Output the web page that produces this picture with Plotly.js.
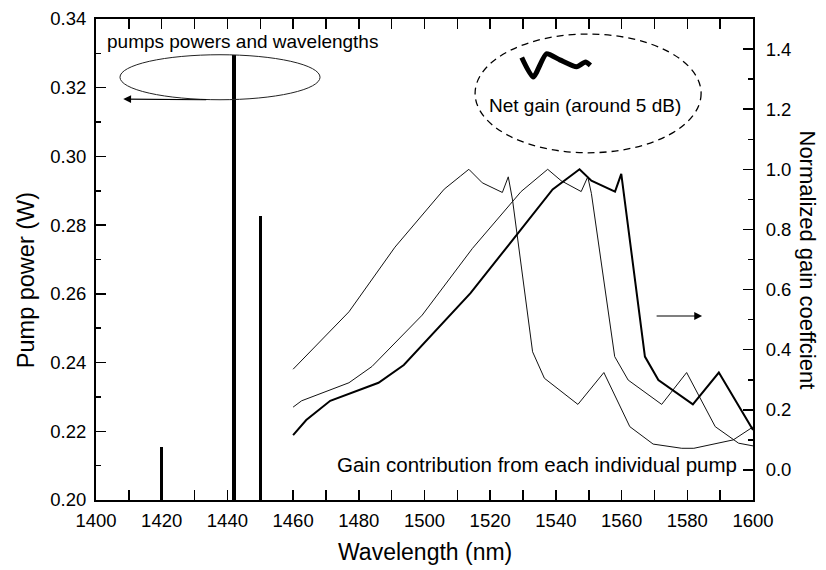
<!DOCTYPE html>
<html>
<head>
<meta charset="utf-8">
<script src="https://cdn.plot.ly/plotly-3.0.1.min.js"></script>
<style>html,body{margin:0;padding:0;background:#fff;}#chart{width:826px;height:570px;}</style>
</head>
<body>
<div id="chart"></div>
<script>
// Pump wavelengths (nm) and powers (W)
const pumpWavelengths = [1420, 1442, 1450];
const pumpPowers = [0.2155, 0.3296, 0.2827];

// Gain contribution curves (normalized), one per pump
const gainAx = [1460, 1477, 1491, 1506, 1511, 1513.5, 1517.6, 1523.7, 1525.5, 1526.8, 1532.9, 1536.5, 1546.7, 1554.6, 1562.5, 1569.6, 1578.3, 1582, 1594, 1600];
const gainAy = [0.335, 0.526, 0.741, 0.934, 0.978, 1.0, 0.955, 0.923, 0.975, 0.898, 0.393, 0.305, 0.218, 0.324, 0.144, 0.086, 0.072, 0.072, 0.100, 0.143];

const gainBx = [1460, 1462.6, 1477, 1484, 1499.3, 1511, 1514.6, 1529.4, 1537.5, 1541.6, 1547.7, 1549.7, 1550.8, 1557.9, 1562, 1572.2, 1579.8, 1588.5, 1595.6, 1600];
const gainBy = [0.209, 0.23, 0.29, 0.344, 0.515, 0.687, 0.737, 0.926, 1.0, 0.962, 0.926, 0.975, 0.920, 0.377, 0.299, 0.218, 0.324, 0.144, 0.089, 0.080];

const gainCx = [1460, 1464, 1471.3, 1486, 1493.7, 1508, 1514, 1539, 1547.2, 1550.8, 1558, 1559.9, 1567.1, 1571.2, 1581.7, 1589.6, 1600];
const gainCy = [0.116, 0.166, 0.23, 0.29, 0.349, 0.515, 0.588, 0.933, 1.0, 0.962, 0.926, 0.985, 0.377, 0.299, 0.218, 0.324, 0.133];

// Net gain sketch (inside dashed ellipse)
const netGainX = [1529.6, 1533.1, 1537.1, 1541.2, 1546.3, 1549.0, 1550.5];
const netGainY = [1.372, 1.307, 1.384, 1.364, 1.341, 1.357, 1.346];

const FONT = '"Liberation Sans", Arial, Helvetica, sans-serif';

const traces = [
  {type: 'bar', x: pumpWavelengths, y: pumpPowers, width: 1.05, marker: {color: '#000', line: {width: 0}}, xaxis: 'x', yaxis: 'y', hoverinfo: 'x+y'},
  {type: 'scatter', mode: 'lines', x: gainAx, y: gainAy, yaxis: 'y2', line: {color: '#111', width: 1}},
  {type: 'scatter', mode: 'lines', x: gainBx, y: gainBy, yaxis: 'y2', line: {color: '#111', width: 1}},
  {type: 'scatter', mode: 'lines', x: gainCx, y: gainCy, yaxis: 'y2', line: {color: '#000', width: 2}},
  {type: 'scatter', mode: 'lines', x: netGainX, y: netGainY, yaxis: 'y2', line: {color: '#000', width: 5, shape: 'spline', smoothing: 0.6}}
];

const axisCommon = {
  showgrid: false, zeroline: false, showline: true, linecolor: '#000', linewidth: 2,
  ticks: 'inside', ticklen: 10, tickwidth: 1.5, tickcolor: '#000',
  tickfont: {family: FONT, size: 18.5, color: '#000'}
};

const layout = {
  width: 826, height: 570,
  margin: {l: 96, r: 73, t: 19, b: 70},
  paper_bgcolor: '#fff', plot_bgcolor: '#fff',
  showlegend: false,
  bargap: 0,
  font: {family: FONT, color: '#000'},
  xaxis: Object.assign({}, axisCommon, {
    range: [1400, 1600], tick0: 1400, dtick: 20, mirror: 'allticks', ticklabelstandoff: 3,
    minor: {dtick: 10, ticks: 'inside', ticklen: 5, tickwidth: 1.5, tickcolor: '#000'}
  }),
  yaxis: Object.assign({}, axisCommon, {
    range: [0.2, 0.34], tick0: 0.2, dtick: 0.02, tickformat: '.2f', mirror: true, ticklabelstandoff: 4,
    minor: {dtick: 0.01, ticks: 'inside', ticklen: 5, tickwidth: 1.5, tickcolor: '#000'}
  }),
  yaxis2: Object.assign({}, axisCommon, {
    overlaying: 'y', side: 'right', anchor: 'x', ticklabelstandoff: 7,
    range: [-0.1, 1.5], tick0: 0, dtick: 0.2, tickformat: '.1f',
    minor: {dtick: 0.1, ticks: 'inside', ticklen: 5, tickwidth: 1.5, tickcolor: '#000'}
  }),
  shapes: [
    {type: 'circle', xref: 'x', yref: 'y', x0: 1407.3, x1: 1468.2, y0: 0.3165, y1: 0.3296,
     line: {color: '#222', width: 1}},
    {type: 'circle', xref: 'x', yref: 'y2', x0: 1515.4, x1: 1584.2, y0: 1.055, y1: 1.450,
     line: {color: '#000', width: 1.3, dash: '7px,5px'}}
  ],
  annotations: [
    {xref: 'x', yref: 'y', x: 1402.7, y: 0.3335, xanchor: 'left', yanchor: 'middle', showarrow: false,
     text: 'pumps powers and wavelengths', font: {family: FONT, size: 19, color: '#000'}},
    {xref: 'x', yref: 'y', axref: 'x', ayref: 'y', x: 1408.3, y: 0.3167, ax: 1434, ay: 0.3165,
     showarrow: true, arrowhead: 2, arrowsize: 1.3, arrowwidth: 1.2, arrowcolor: '#000', text: ''},
    {xref: 'x', yref: 'y2', x: 1549, y: 1.213, xanchor: 'center', yanchor: 'middle', showarrow: false,
     text: 'Net gain (around 5 dB)', font: {family: FONT, size: 19, color: '#000'}},
    {xref: 'x', yref: 'y2', axref: 'x', ayref: 'y2', x: 1584.5, y: 0.512, ax: 1570.2, ay: 0.512,
     showarrow: true, arrowhead: 2, arrowsize: 1.3, arrowwidth: 1.2, arrowcolor: '#000', text: ''},
    {xref: 'x', yref: 'y2', x: 1472.7, y: 0.017, xanchor: 'left', yanchor: 'middle', showarrow: false,
     text: 'Gain contribution from each individual pump', font: {family: FONT, size: 20.5, color: '#000'}},
    // axis titles
    {xref: 'paper', yref: 'paper', x: 0.5, y: 0, yshift: -52, xanchor: 'center', yanchor: 'middle', showarrow: false,
     text: 'Wavelength (nm)', font: {family: FONT, size: 23, color: '#000'}},
    {xref: 'paper', yref: 'paper', x: 0, y: 0.457, xshift: -70, xanchor: 'center', yanchor: 'middle', showarrow: false,
     text: 'Pump power (W)', textangle: -90, font: {family: FONT, size: 23.5, color: '#000'}},
    {xref: 'paper', yref: 'paper', x: 1, y: 0.5, xshift: 54, xanchor: 'center', yanchor: 'middle', showarrow: false,
     text: 'Normalized gain coeffcient', textangle: 90, font: {family: FONT, size: 22, color: '#000'}}
  ]
};

Plotly.newPlot('chart', traces, layout, {displayModeBar: false, staticPlot: true});
</script>
</body>
</html>
